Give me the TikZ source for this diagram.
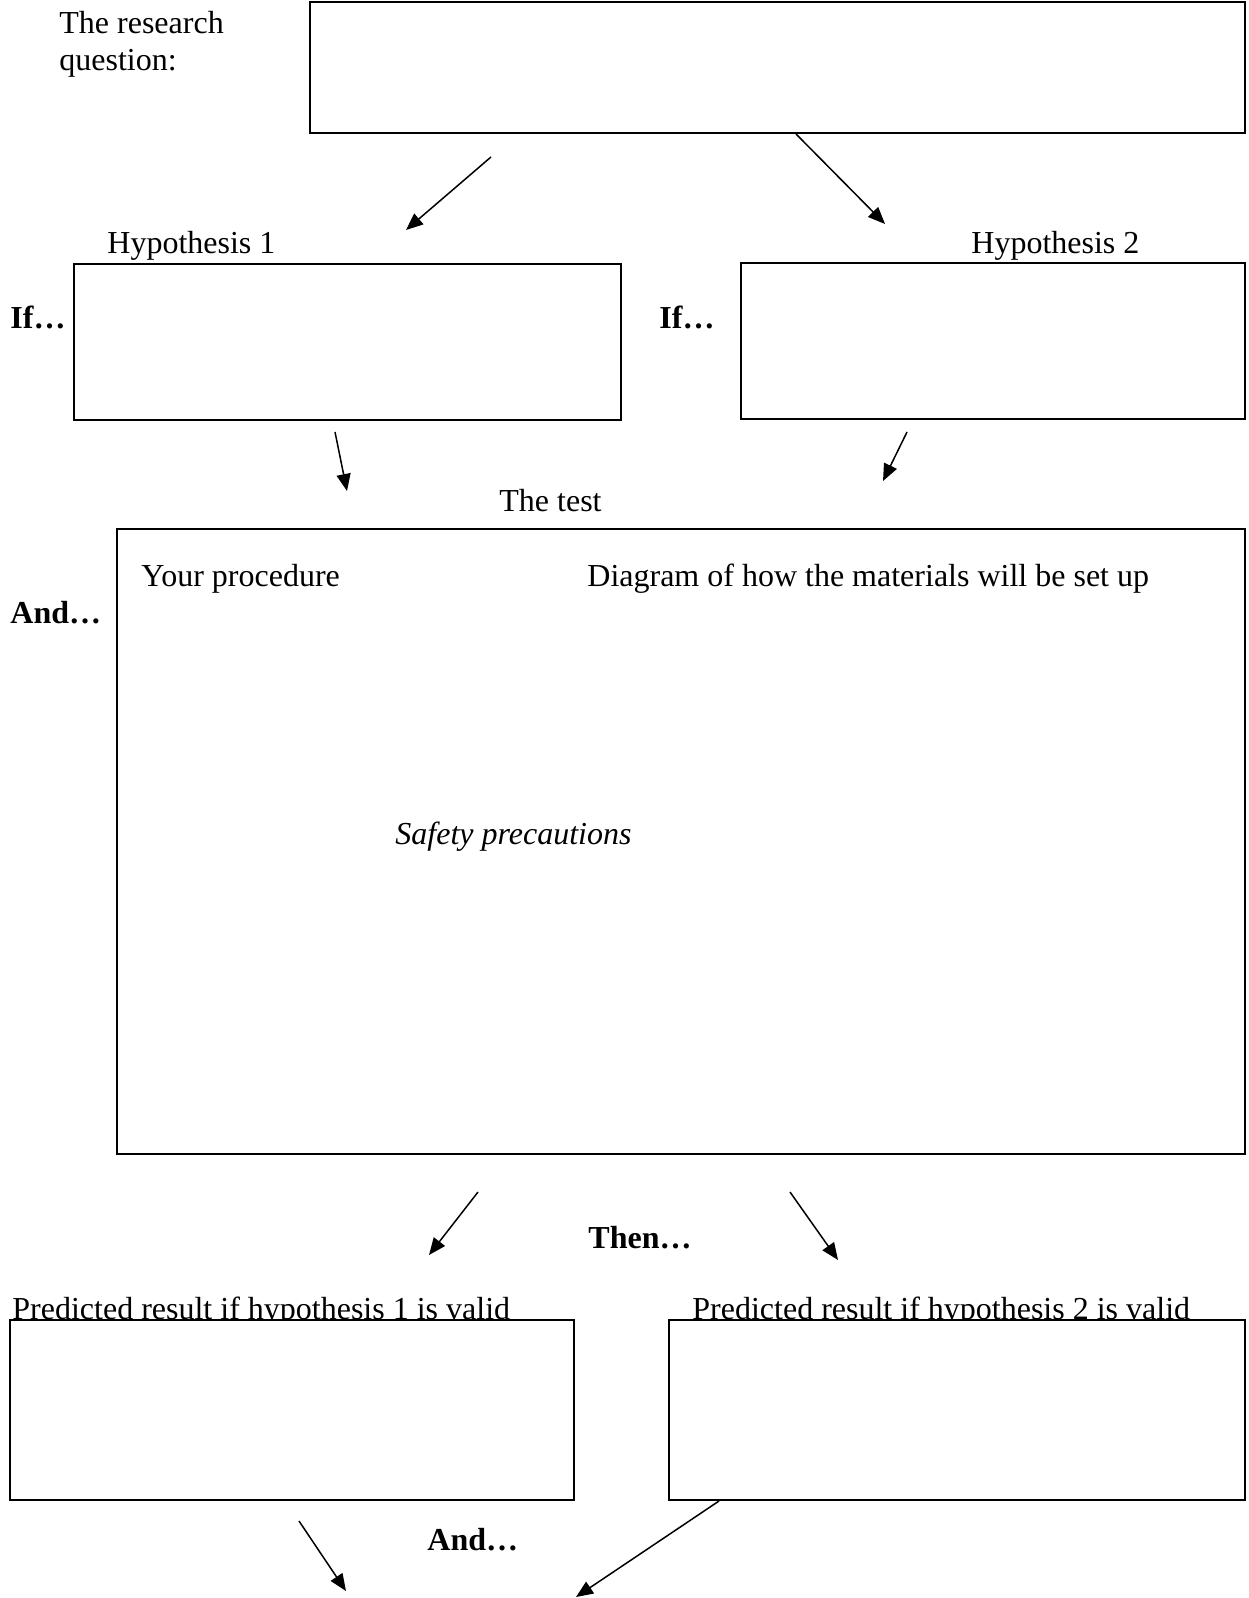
\documentclass[tikz,border=0pt]{standalone}
\usepackage{fontspec}
\setmainfont{Liberation Serif}
\usetikzlibrary{arrows.meta,fit}
\begin{document}
\begin{tikzpicture}[x=0.5pt,y=-0.5pt,
  lbl/.style={inner sep=0pt,anchor=base west,font=\fontsize{16}{19}\selectfont},
  blbl/.style={lbl,font=\fontsize{16}{19}\selectfont\bfseries},
  ilbl/.style={lbl,font=\fontsize{16}{19}\selectfont\itshape},
  box/.style={draw,line width=1pt,fill=white,inner sep=0pt},
  arr/.style={line width=0.75pt,-{Triangle[length=8.5pt,width=7pt]}}]
\useasboundingbox (0,0) rectangle (1248,1598);
% labels
\node[lbl] (rq1) at (59,34) {The research};
\node[lbl] (rq2) at (59,71) {question:};
\node[lbl] (h1) at (107,254) {Hypothesis 1};
\node[lbl] (h2) at (971,254) {Hypothesis 2};
\node[blbl] (if1) at (10,329) {If…};
\node[blbl] (if2) at (659,329) {If…};
\node[lbl] (tt) at (499,511) {The test};
\node[blbl] (and1) at (10,623) {And…};
\node[blbl] (then) at (588,1248) {Then…};
\node[lbl] (p1) at (12,1319) {Predicted result if hypothesis 1 is valid};
\node[lbl] (p2) at (692,1319) {Predicted result if hypothesis 2 is valid};
\node[blbl] (and2) at (427,1550) {And…};
% boxes
\node[box,fit={(310,2) (1245,133)}] (rqbox) {};
\node[box,fit={(74,264) (621,420)}] (h1box) {};
\node[box,fit={(741,263) (1245,419)}] (h2box) {};
\node[box,fit={(117,529) (1245,1154)}] (testbox) {};
\node[box,fit={(10,1320) (574,1500)}] (p1box) {};
\node[box,fit={(669,1320) (1245,1500)}] (p2box) {};
% texts inside test box
\node[lbl] (proc) at (141,586) {Your procedure};
\node[lbl] (diag) at (587,586) {Diagram of how the materials will be set up};
\node[ilbl] (safe) at (395,844) {Safety precautions};
% arrow end points
\coordinate (a1s) at (491,157); \coordinate (a1e) at (406,230);
\coordinate (a2s) at (796,134); \coordinate (a2e) at (885,224);
\coordinate (a3s) at (335,432); \coordinate (a3e) at (347,491);
\coordinate (a4s) at (907,432); \coordinate (a4e) at (883,481);
\coordinate (a5s) at (478,1192); \coordinate (a5e) at (429,1255);
\coordinate (a6s) at (790,1192); \coordinate (a6e) at (838,1260);
\coordinate (a7s) at (299,1521); \coordinate (a7e) at (346,1591);
\coordinate (a8s) at (719,1501); \coordinate (a8e) at (576,1597);
\draw[arr] (a1s) -- (a1e);
\draw[arr] (a2s) -- (a2e);
\draw[arr] (a3s) -- (a3e);
\draw[arr] (a4s) -- (a4e);
\draw[arr] (a5s) -- (a5e);
\draw[arr] (a6s) -- (a6e);
\draw[arr] (a7s) -- (a7e);
\draw[arr] (a8s) -- (a8e);
\end{tikzpicture}
\end{document}
